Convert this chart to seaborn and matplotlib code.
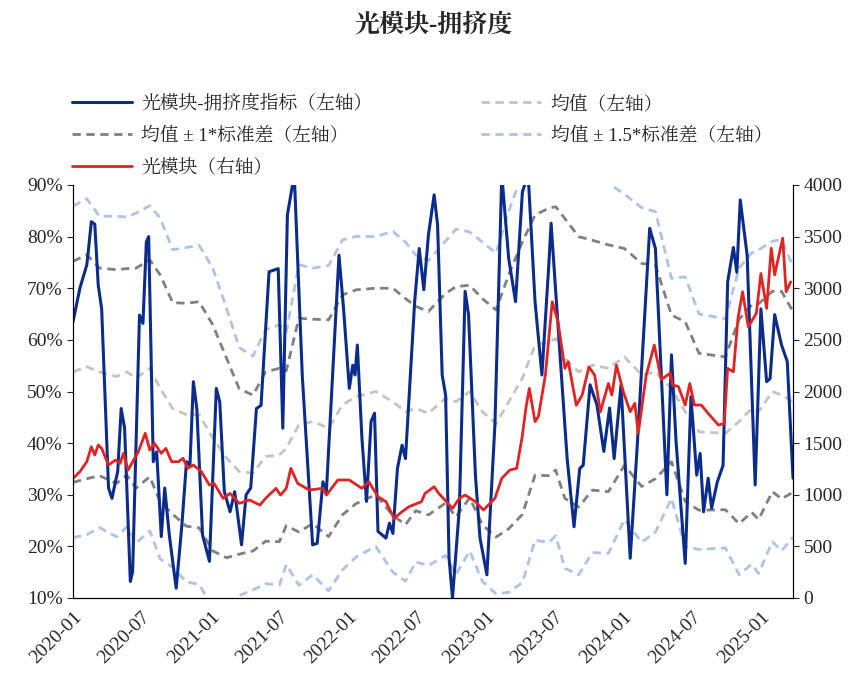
import numpy as np
import pandas as pd
import matplotlib.pyplot as plt
import matplotlib.dates as mdates
import matplotlib.ticker as mticker
from matplotlib.lines import Line2D
import seaborn as sns

# month offsets from 2020-01 and values
crowd_m = [0, 0.6, 1.2, 1.3, 1.6, 1.9, 2.2, 2.5, 3.1, 3.4, 3.7, 3.9, 4.2, 4.5, 5.0, 5.2, 5.8, 6.1, 6.4, 6.6,
           7.0, 7.3, 7.7, 8.0, 8.4, 9.0, 9.5, 9.9, 10.2, 10.5, 10.8, 11.3, 11.9, 12.5, 12.8, 13.2, 13.7, 14.1,
           14.7, 15.1, 15.5, 16.0, 16.4, 17.1, 17.9, 18.3, 18.7, 19.3, 20.0, 20.9, 21.3, 21.8, 22.1, 23.2,
           23.6, 24.1, 24.4, 24.6, 24.8, 25.2, 25.6, 26.0, 26.3, 26.6, 27.3, 27.6, 27.9, 28.3, 28.7, 29.0,
           29.8, 30.2, 30.6, 31.0, 31.5, 31.8, 32.2, 32.5, 32.8, 33.1, 33.7, 34.2, 34.5, 35.1, 35.5, 36.1,
           36.8, 37.4, 38.0, 38.6, 39.2, 39.7, 40.3, 40.9, 41.5, 41.7, 42.3, 43.1, 43.7, 44.2, 44.5, 45.1,
           45.7, 46.3, 46.8, 47.2, 47.8, 48.6, 49.2, 50.3, 50.8, 51.8, 52.2, 52.6, 53.4, 53.9, 54.4, 54.7,
           55.0, 55.4, 55.7, 56.2, 56.7, 57.1, 57.6, 57.9, 58.2, 58.8, 59.5, 60.0, 60.5, 60.8, 61.2, 61.8,
           62.3, 62.8]
crowd_v = [63.5, 70, 74.5, 76.4, 82.9, 82.4, 70.6, 66, 31.3, 29.3, 32.5, 34.5, 46.7, 42.9, 13.2, 15.1, 64.8,
           63.2, 79, 80, 36.4, 38.3, 21.9, 31.3, 22.2, 11.9, 24.2, 36.4, 35.7, 51.9, 46.7, 22.2, 17.1, 50.6,
           48, 30.6, 26.7, 30.6, 20.3, 30, 31.3, 46.7, 47.3, 73.2, 73.8, 42.9, 84.2, 92, 53, 20.3, 20.6, 32.5,
           30.6, 76.4, 66, 50.6, 55.1, 53.2, 59, 41, 28.7, 44.2, 45.8, 22.9, 21.6, 24.5, 22.5, 35.1, 39.6, 37,
           67.4, 77.7, 69.7, 80.3, 88.1, 82.3, 53.2, 49.3, 17.7, 10, 27.4, 69.4, 64.9, 33.8, 21.6, 14.5, 43.5,
           92, 75.8, 67.4, 88.7, 92, 67.4, 53.2, 74.5, 82.6, 62.9, 37, 23.8, 35.1, 35.7, 51.3, 47.4, 38.4,
           46.8, 37, 51.3, 17.7, 39, 81.6, 77.7, 30, 57.1, 40.3, 16.7, 49, 33.8, 38, 26.7, 33.2, 27.4, 32.5,
           35.7, 71.2, 77.9, 73.1, 87.1, 76.4, 31.9, 66, 51.9, 52.5, 64.9, 59, 55.8, 33.2]

price_m = [0, 0.6, 1.2, 1.6, 1.9, 2.2, 2.5, 3.1, 3.7, 4.1, 4.4, 4.8, 5.7, 6.3, 6.7, 7.1, 7.7, 8.1, 8.6, 9.2,
           9.6, 10.0, 10.5, 11.2, 11.9, 12.3, 13.1, 13.7, 14.5, 15.4, 16.3, 16.8, 17.7, 18.1, 18.6, 19.0,
           19.6, 20.6, 21.8, 22.1, 23.1, 24.1, 25.2, 25.8, 26.6, 27.3, 28.0, 28.7, 29.3, 30.4, 30.7, 31.5,
           31.9, 33.1, 33.7, 34.2, 35.1, 35.8, 36.8, 37.4, 38.1, 38.7, 39.2, 39.5, 39.8, 40.3, 40.6, 41.2,
           41.8, 42.3, 42.9, 43.2, 43.9, 44.4, 45.0, 45.5, 46.0, 46.7, 47.0, 47.4, 48.0, 48.6, 49.0, 49.3,
           50.0, 50.7, 51.3, 52.1, 52.3, 52.8, 53.4, 53.8, 54.2, 54.8, 55.4, 56.3, 56.8, 57.1, 57.6, 58.0,
           58.4, 58.9, 59.6, 60.0, 60.5, 60.9, 61.2, 61.9, 62.2, 62.6]
price_v = [1159, 1223, 1320, 1465, 1385, 1482, 1449, 1288, 1336, 1304, 1401, 1239, 1417, 1595, 1433, 1498,
           1401, 1449, 1320, 1320, 1353, 1256, 1288, 1223, 1094, 1110, 965, 1013, 917, 949, 900, 965, 1062,
           997, 1062, 1256, 1110, 1046, 1062, 997, 1143, 1143, 1062, 1126, 981, 933, 771, 836, 884, 933,
           1013, 1078, 1013, 868, 965, 997, 933, 852, 965, 1159, 1239, 1256, 1578, 1837, 2030, 1708, 1760,
           2159, 2869, 2676, 2224, 2288, 1866, 1963, 2237, 2159, 1804, 2078, 1966, 2256, 1998, 1804, 1885,
           1595, 2159, 2450, 2114, 2179, 2062, 2049, 1869, 2078, 1869, 1869, 1788, 1675, 1691, 2224, 2191,
           2708, 2966, 2627, 2756, 3143, 2805, 3388, 3130, 3485, 2966, 3062]

mean_m = [0, 1.2, 2.3, 3.8, 4.7, 5.5, 6.7, 7.6, 8.7, 9.9, 11, 12.2, 13.4, 14.5, 15.7, 16.8, 18, 18.6, 19.7,
          20.9, 22.3, 23.5, 24.7, 26.4, 27.9, 29.0, 29.9, 31.0, 32.5, 33.4, 34.6, 35.7, 36.9, 38.0, 39.2,
          40.3, 41.5, 42.1, 42.9, 44.1, 45.3, 46.7, 48.1, 49.6, 50.8, 52.2, 53.4, 54.6, 56.9, 58.1, 59.2,
          59.8, 61.0, 61.8, 62.8]
mean_v = [53.8, 54.8, 53.8, 52.9, 53.8, 52.6, 54.5, 50.6, 46.7, 45.5, 45.5, 41, 37.1, 34.5, 34.2, 37.4, 37.7,
          39, 43.5, 44.2, 42.9, 47.4, 49, 50, 48, 46.1, 46.7, 45.8, 48.7, 48, 50, 46.1, 43.8, 48, 52.6, 59,
          59.6, 60.3, 56.4, 53.8, 55.1, 54.5, 56.7, 53.2, 53.8, 50.6, 46.1, 42.2, 41.9, 44.2, 46.7, 46.1, 50,
          49.3, 48]
upper_v = [75.2, 76.5, 73.9, 73.6, 73.8, 73.9, 75.5, 72.6, 67.2, 67.1, 67.4, 62.9, 56.4, 50.5, 49.3, 53.8,
           54.5, 54.0, 64.2, 64.0, 63.9, 68.7, 69.7, 70, 70, 68.0, 66.5, 65.5, 69, 70.3, 70.6, 68, 65.8,
           72.6, 79, 84.2, 85.5, 85.8, 83.5, 80, 79.3, 78.4, 77.7, 74.8, 74.5, 64.8, 63.5, 57.4, 56.7, 64,
           66.8, 67, 69.4, 69.4, 65.5]

labels = ['光模块-拥挤度指标（左轴）', '均值 ± 1*标准差（左轴）', '光模块（右轴）',
          '均值（左轴）', '均值 ± 1.5*标准差（左轴）']

base = pd.Timestamp('2020-01-01')


def to_dates(months):
    return [base + pd.Timedelta(days=m * 30.44) for m in months]


crowd = pd.DataFrame({'date': to_dates(crowd_m), 'v': crowd_v})
price = pd.DataFrame({'date': to_dates(price_m), 'v': price_v})
band = pd.DataFrame({'date': to_dates(mean_m), 'mean': mean_v, 'up1': upper_v})
sd = band['up1'] - band['mean']
band['lo1'] = band['mean'] - sd
band['up15'] = band['mean'] + 1.5 * sd
band['lo15'] = band['mean'] - 1.5 * sd

sns.set_style('white')
plt.rcParams['font.family'] = ['Liberation Serif', 'Noto Serif CJK JP']

fig = plt.figure(figsize=(8.67, 6.88), dpi=100)
ax = fig.add_axes([73 / 867, 90 / 688, 720 / 867, 413 / 688])
ax2 = ax.twinx()

c_blue, c_red = '#0c2c8c', '#e02424'
c_mean, c_sd1, c_sd15 = '#c4c4c4', '#808080', '#aec4e6'
dash = (0, (3, 2))
for col, c in [('up15', c_sd15), ('lo15', c_sd15), ('up1', c_sd1), ('lo1', c_sd1), ('mean', c_mean)]:
    sns.lineplot(data=band, x='date', y=col, ax=ax, color=c, lw=2, linestyle=dash)
sns.lineplot(data=crowd, x='date', y='v', ax=ax, color=c_blue, lw=2.2)
sns.lineplot(data=price, x='date', y='v', ax=ax2, color=c_red, lw=2)

ax.set_xlim(base, base + pd.Timedelta(days=62.8 * 30.44))
ax.set_ylim(10, 90)
ax2.set_ylim(0, 4000)
ax.set_xlabel('')
ax.set_ylabel('')
ax2.set_ylabel('')
ax.yaxis.set_major_locator(mticker.MultipleLocator(10))
ax.yaxis.set_major_formatter(mticker.FuncFormatter(lambda v, p: f'{v:.0f}%'))
ax2.yaxis.set_major_locator(mticker.MultipleLocator(500))
ax.xaxis.set_major_locator(mdates.MonthLocator(bymonth=[1, 7]))
ax.xaxis.set_major_formatter(mdates.DateFormatter('%Y-%m'))
for lab in ax.get_xticklabels():
    lab.set_rotation(45)
    lab.set_ha('right')
    lab.set_rotation_mode('anchor')
ax.tick_params(labelsize=14, direction='out', length=4)
ax2.tick_params(labelsize=14, direction='out', length=4)
for a in (ax, ax2):
    a.spines['top'].set_visible(False)
    for s in ('left', 'right', 'bottom'):
        a.spines[s].set_color('black')

fig.text(0.5, 1 - 25 / 688, '光模块-拥挤度', ha='center', va='center', fontsize=18, fontweight='bold')

handles = [Line2D([], [], color=c_blue, lw=2.2),
           Line2D([], [], color=c_sd1, lw=2, linestyle=dash),
           Line2D([], [], color=c_red, lw=2),
           Line2D([], [], color=c_mean, lw=2, linestyle=dash),
           Line2D([], [], color=c_sd15, lw=2, linestyle=dash)]
fig.legend(handles, labels, loc='upper left', bbox_to_anchor=(55 / 867, 1 - 78 / 688),
           ncol=2, frameon=False, fontsize=13.5, columnspacing=5.8, handlelength=3.2,
           labelspacing=0.75, handletextpad=0.5)

fig.savefig('out.png', dpi=100)
